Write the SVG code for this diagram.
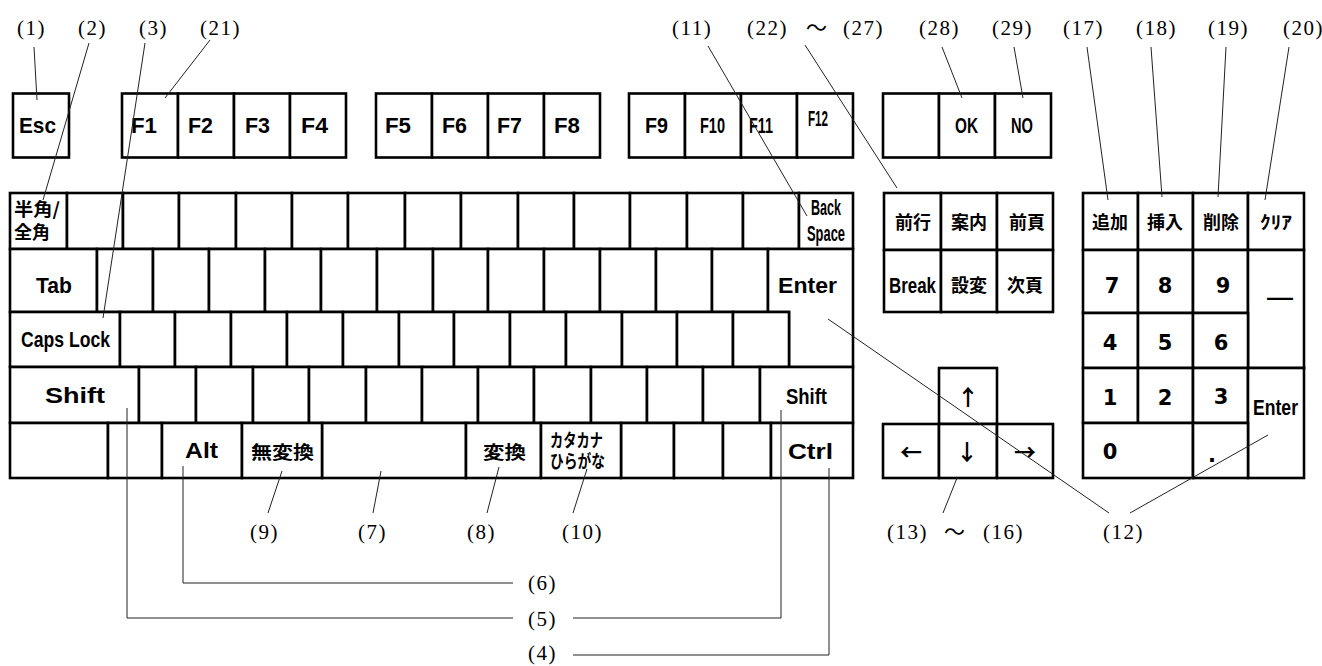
<svg xmlns="http://www.w3.org/2000/svg" width="1322" height="666" viewBox="0 0 1322 666">
<style>
.b{fill:#fff;stroke:#000;stroke-width:2.6}
.t{font-family:"Liberation Sans","Noto Sans CJK JP",sans-serif;font-weight:bold;font-size:22px;fill:#000}
.j{font-family:"Noto Sans CJK JP",sans-serif;font-weight:bold;font-size:18px;fill:#000}
.d{font-family:"DejaVu Sans",sans-serif;font-weight:bold;font-size:21px;fill:#000;text-anchor:middle}
.a{font-family:"Noto Sans CJK JP",sans-serif;font-weight:bold;font-size:22px;fill:#000;text-anchor:middle}
.l{font-family:"Liberation Serif","Noto Sans CJK JP",serif;font-size:21px;letter-spacing:1.5px;fill:#000}
.c{fill:none;stroke:#222;stroke-width:1}
</style>
<rect width="1322" height="666" fill="#fff"/>

<!-- Function row -->
<g id="key-esc"><rect class="b" x="13" y="93.5" width="56" height="64"/><text class="t" x="19" y="133" textLength="37" lengthAdjust="spacingAndGlyphs">Esc</text></g>
<g id="key-f1"><rect class="b" x="122" y="93.5" width="56" height="64"/><text class="t" x="131" y="133" textLength="26" lengthAdjust="spacingAndGlyphs">F1</text></g>
<g id="key-f2"><rect class="b" x="178" y="93.5" width="56" height="64"/><text class="t" x="188" y="133" textLength="25" lengthAdjust="spacingAndGlyphs">F2</text></g>
<g id="key-f3"><rect class="b" x="234" y="93.5" width="56" height="64"/><text class="t" x="245" y="133" textLength="25" lengthAdjust="spacingAndGlyphs">F3</text></g>
<g id="key-f4"><rect class="b" x="290" y="93.5" width="56" height="64"/><text class="t" x="301" y="133" textLength="27" lengthAdjust="spacingAndGlyphs">F4</text></g>
<g id="key-f5"><rect class="b" x="376" y="93.5" width="56" height="64"/><text class="t" x="385" y="133" textLength="26" lengthAdjust="spacingAndGlyphs">F5</text></g>
<g id="key-f6"><rect class="b" x="432" y="93.5" width="56" height="64"/><text class="t" x="442" y="133" textLength="25" lengthAdjust="spacingAndGlyphs">F6</text></g>
<g id="key-f7"><rect class="b" x="488" y="93.5" width="56" height="64"/><text class="t" x="497" y="133" textLength="25" lengthAdjust="spacingAndGlyphs">F7</text></g>
<g id="key-f8"><rect class="b" x="544" y="93.5" width="56" height="64"/><text class="t" x="554" y="133" textLength="26" lengthAdjust="spacingAndGlyphs">F8</text></g>
<g id="key-f9"><rect class="b" x="629" y="93.5" width="56" height="64"/><text class="t" x="645" y="133" textLength="23" lengthAdjust="spacingAndGlyphs">F9</text></g>
<g id="key-f10"><rect class="b" x="685" y="93.5" width="56" height="64"/><text class="t" x="700" y="133" textLength="25" lengthAdjust="spacingAndGlyphs">F10</text></g>
<g id="key-f11"><rect class="b" x="741" y="93.5" width="56" height="64"/><text class="t" x="749" y="133" textLength="24" lengthAdjust="spacingAndGlyphs">F11</text></g>
<g id="key-f12"><rect class="b" x="797" y="93.5" width="56" height="64"/><text class="t" x="808" y="126" textLength="20" lengthAdjust="spacingAndGlyphs">F12</text></g>
<g id="key-blank-top"><rect class="b" x="883" y="93.5" width="56" height="64"/></g>
<g id="key-ok"><rect class="b" x="939" y="93.5" width="56" height="64"/><text class="t" x="955" y="133" textLength="23" lengthAdjust="spacingAndGlyphs">OK</text></g>
<g id="key-no"><rect class="b" x="995" y="93.5" width="56" height="64"/><text class="t" x="1011" y="133" textLength="22" lengthAdjust="spacingAndGlyphs">NO</text></g>

<!-- Main row 1 -->
<g id="key-hankaku"><rect class="b" x="10" y="193" width="57" height="56"/><text class="j" font-size="14"><tspan x="14" y="216" textLength="46" lengthAdjust="spacingAndGlyphs">半角/</tspan><tspan x="14" y="239" textLength="36" lengthAdjust="spacingAndGlyphs">全角</tspan></text></g>
<g id="row1">
<rect class="b" x="67" y="193" width="56" height="56"/><rect class="b" x="123" y="193" width="56" height="56"/><rect class="b" x="179" y="193" width="57" height="56"/><rect class="b" x="236" y="193" width="56" height="56"/><rect class="b" x="292" y="193" width="56" height="56"/><rect class="b" x="348" y="193" width="57" height="56"/><rect class="b" x="405" y="193" width="56" height="56"/><rect class="b" x="461" y="193" width="57" height="56"/><rect class="b" x="518" y="193" width="56" height="56"/><rect class="b" x="574" y="193" width="56" height="56"/><rect class="b" x="630" y="193" width="57" height="56"/><rect class="b" x="687" y="193" width="56" height="56"/><rect class="b" x="743" y="193" width="56" height="56"/>
</g>
<g id="key-backspace"><rect class="b" x="799" y="193" width="54" height="56"/><text class="t" font-size="17"><tspan x="811" y="215" textLength="30" lengthAdjust="spacingAndGlyphs">Back</tspan><tspan x="807" y="241" textLength="38" lengthAdjust="spacingAndGlyphs">Space</tspan></text></g>

<!-- Main row 2 -->
<g id="key-tab"><rect class="b" x="10" y="249" width="87" height="63"/><text class="t" x="36" y="293" textLength="36" lengthAdjust="spacingAndGlyphs">Tab</text></g>
<g id="row2">
<rect class="b" x="97" y="249" width="56" height="63"/><rect class="b" x="153" y="249" width="56" height="63"/><rect class="b" x="209" y="249" width="56" height="63"/><rect class="b" x="265" y="249" width="56" height="63"/><rect class="b" x="321" y="249" width="56" height="63"/><rect class="b" x="377" y="249" width="56" height="63"/><rect class="b" x="433" y="249" width="55" height="63"/><rect class="b" x="488" y="249" width="56" height="63"/><rect class="b" x="544" y="249" width="56" height="63"/><rect class="b" x="600" y="249" width="56" height="63"/><rect class="b" x="656" y="249" width="56" height="63"/><rect class="b" x="712" y="249" width="56" height="63"/>
</g>
<g id="key-enter"><path class="b" d="M768,249 H853 V367 H789 V312 H768 Z"/><text class="t" x="778" y="293" textLength="59" lengthAdjust="spacingAndGlyphs">Enter</text></g>

<!-- Main row 3 -->
<g id="key-capslock"><rect class="b" x="10" y="312" width="110" height="55"/><text class="t" x="21" y="347" textLength="89" lengthAdjust="spacingAndGlyphs">Caps Lock</text></g>
<g id="row3">
<rect class="b" x="120" y="312" width="55" height="55"/><rect class="b" x="175" y="312" width="56" height="55"/><rect class="b" x="231" y="312" width="56" height="55"/><rect class="b" x="287" y="312" width="56" height="55"/><rect class="b" x="343" y="312" width="56" height="55"/><rect class="b" x="399" y="312" width="55" height="55"/><rect class="b" x="454" y="312" width="56" height="55"/><rect class="b" x="510" y="312" width="56" height="55"/><rect class="b" x="566" y="312" width="56" height="55"/><rect class="b" x="622" y="312" width="55" height="55"/><rect class="b" x="677" y="312" width="56" height="55"/><rect class="b" x="733" y="312" width="56" height="55"/>
</g>

<!-- Main row 4 -->
<g id="key-shift-l"><rect class="b" x="10" y="367" width="129" height="56"/><text class="t" x="45" y="403" textLength="60" lengthAdjust="spacingAndGlyphs">Shift</text></g>
<g id="row4">
<rect class="b" x="139" y="367" width="57" height="56"/><rect class="b" x="196" y="367" width="57" height="56"/><rect class="b" x="253" y="367" width="56" height="56"/><rect class="b" x="309" y="367" width="57" height="56"/><rect class="b" x="366" y="367" width="56" height="56"/><rect class="b" x="422" y="367" width="56" height="56"/><rect class="b" x="478" y="367" width="56" height="56"/><rect class="b" x="534" y="367" width="57" height="56"/><rect class="b" x="591" y="367" width="56" height="56"/><rect class="b" x="647" y="367" width="56" height="56"/><rect class="b" x="703" y="367" width="57" height="56"/>
</g>
<g id="key-shift-r"><rect class="b" x="760" y="367" width="93" height="56"/><text class="t" x="786" y="404" textLength="41" lengthAdjust="spacingAndGlyphs">Shift</text></g>

<!-- Main row 5 -->
<g id="row5">
<rect class="b" x="10" y="423" width="98" height="55"/><rect class="b" x="108" y="423" width="54" height="55"/>
<rect class="b" x="322" y="423" width="144" height="55"/>
<rect class="b" x="621" y="423" width="53" height="55"/><rect class="b" x="674" y="423" width="49" height="55"/><rect class="b" x="723" y="423" width="48" height="55"/>
</g>
<g id="key-alt"><rect class="b" x="162" y="423" width="80" height="55"/><text class="t" x="185" y="458" textLength="33" lengthAdjust="spacingAndGlyphs">Alt</text></g>
<g id="key-muhenkan"><rect class="b" x="242" y="423" width="80" height="55"/><text class="j" x="251" y="459" font-size="21" textLength="63" lengthAdjust="spacingAndGlyphs">無変換</text></g>
<g id="key-henkan"><rect class="b" x="466" y="423" width="75" height="55"/><text class="j" x="483" y="459" font-size="21" textLength="43" lengthAdjust="spacingAndGlyphs">変換</text></g>
<g id="key-kana"><rect class="b" x="541" y="423" width="80" height="55"/><text class="j" font-size="12.5"><tspan x="550" y="447" textLength="53" lengthAdjust="spacingAndGlyphs">カタカナ</tspan><tspan x="550" y="468" textLength="55" lengthAdjust="spacingAndGlyphs">ひらがな</tspan></text></g>
<g id="key-ctrl"><rect class="b" x="771" y="423" width="82" height="55"/><text class="t" x="788" y="459" textLength="45" lengthAdjust="spacingAndGlyphs">Ctrl</text></g>

<!-- Navigation block -->
<g id="key-zengyo"><rect class="b" x="884" y="193" width="57" height="57"/><text class="j" x="895" y="229" textLength="36" lengthAdjust="spacingAndGlyphs">前行</text></g>
<g id="key-annai"><rect class="b" x="941" y="193" width="56" height="57"/><text class="j" x="951" y="229" textLength="36" lengthAdjust="spacingAndGlyphs">案内</text></g>
<g id="key-zenpage"><rect class="b" x="997" y="193" width="56" height="57"/><text class="j" x="1009" y="229" textLength="36" lengthAdjust="spacingAndGlyphs">前頁</text></g>
<g id="key-break"><rect class="b" x="884" y="250" width="57" height="62"/><text class="t" x="889" y="293" font-size="19" textLength="47" lengthAdjust="spacingAndGlyphs">Break</text></g>
<g id="key-sethen"><rect class="b" x="941" y="250" width="56" height="62"/><text class="j" x="951" y="292" textLength="36" lengthAdjust="spacingAndGlyphs">設変</text></g>
<g id="key-jipage"><rect class="b" x="997" y="250" width="56" height="62"/><text class="j" x="1007" y="292" textLength="36" lengthAdjust="spacingAndGlyphs">次頁</text></g>

<!-- Arrow keys -->
<g id="key-up"><rect class="b" x="939" y="368" width="58" height="56"/><text class="a" x="968" y="405">↑</text></g>
<g id="key-left"><rect class="b" x="883" y="424" width="56" height="54"/><text class="a" x="911" y="460">←</text></g>
<g id="key-down"><rect class="b" x="939" y="424" width="58" height="54"/><text class="a" x="967" y="460">↓</text></g>
<g id="key-right"><rect class="b" x="997" y="424" width="56" height="54"/><text class="a" x="1025" y="460">→</text></g>

<!-- Numeric pad -->
<g id="key-tsuika"><rect class="b" x="1083" y="193" width="55" height="57"/><text class="j" x="1092" y="229" textLength="36" lengthAdjust="spacingAndGlyphs">追加</text></g>
<g id="key-sonyu"><rect class="b" x="1138" y="193" width="55" height="57"/><text class="j" x="1147" y="229" textLength="36" lengthAdjust="spacingAndGlyphs">挿入</text></g>
<g id="key-sakujo"><rect class="b" x="1193" y="193" width="55" height="57"/><text class="j" x="1203" y="229" textLength="36" lengthAdjust="spacingAndGlyphs">削除</text></g>
<g id="key-clear"><rect class="b" x="1248" y="193" width="56" height="57"/><text class="j" x="1260" y="229" textLength="32" lengthAdjust="spacingAndGlyphs">ｸﾘｱ</text></g>
<g id="key-7"><rect class="b" x="1083" y="250" width="55" height="63"/><text class="d" x="1112" y="293">7</text></g>
<g id="key-8"><rect class="b" x="1138" y="250" width="55" height="63"/><text class="d" x="1165" y="293">8</text></g>
<g id="key-9"><rect class="b" x="1193" y="250" width="55" height="63"/><text class="d" x="1223" y="293">9</text></g>
<g id="key-minus"><rect class="b" x="1248" y="250" width="56" height="118"/><text class="t" x="1267" y="305" font-size="26" textLength="26" lengthAdjust="spacingAndGlyphs">—</text></g>
<g id="key-4"><rect class="b" x="1083" y="313" width="55" height="55"/><text class="d" x="1110" y="350">4</text></g>
<g id="key-5"><rect class="b" x="1138" y="313" width="55" height="55"/><text class="d" x="1165" y="350">5</text></g>
<g id="key-6"><rect class="b" x="1193" y="313" width="55" height="55"/><text class="d" x="1221" y="350">6</text></g>
<g id="key-1"><rect class="b" x="1083" y="368" width="55" height="55"/><text class="d" x="1110" y="405">1</text></g>
<g id="key-2"><rect class="b" x="1138" y="368" width="55" height="55"/><text class="d" x="1165" y="405">2</text></g>
<g id="key-3"><rect class="b" x="1193" y="368" width="55" height="55"/><text class="d" x="1221" y="404">3</text></g>
<g id="key-numenter"><rect class="b" x="1248" y="368" width="56" height="110"/><text class="t" x="1253" y="415" textLength="45" lengthAdjust="spacingAndGlyphs">Enter</text></g>
<g id="key-0"><rect class="b" x="1083" y="423" width="110" height="55"/><text class="d" x="1110" y="459">0</text></g>
<g id="key-dot"><rect class="b" x="1193" y="423" width="55" height="55"/><text class="d" x="1212" y="462">.</text></g>

<!-- Leader lines -->
<g id="connectors">
<line class="c" x1="34" y1="47" x2="37" y2="100"/>
<line class="c" x1="89" y1="43" x2="43" y2="200"/>
<line class="c" x1="145" y1="43" x2="103" y2="318"/>
<line class="c" x1="210" y1="40" x2="165" y2="98"/>
<line class="c" x1="708" y1="46" x2="807" y2="216"/>
<line class="c" x1="805" y1="45" x2="897" y2="188"/>
<line class="c" x1="942" y1="47" x2="962" y2="98"/>
<line class="c" x1="1014" y1="47" x2="1023" y2="98"/>
<line class="c" x1="1087" y1="47" x2="1108" y2="200"/>
<line class="c" x1="1151" y1="47" x2="1162" y2="197"/>
<line class="c" x1="1226" y1="47" x2="1218" y2="197"/>
<line class="c" x1="1289" y1="47" x2="1265" y2="200"/>
<line class="c" x1="282" y1="471" x2="268" y2="513"/>
<line class="c" x1="381" y1="471" x2="373" y2="513"/>
<line class="c" x1="499" y1="467" x2="487" y2="513"/>
<line class="c" x1="587" y1="469" x2="573" y2="513"/>
<line class="c" x1="957" y1="478" x2="943" y2="513"/>
<line class="c" x1="828" y1="319" x2="1109" y2="513"/>
<line class="c" x1="1268" y1="435" x2="1130" y2="513"/>
<polyline class="c" points="183,466 183,583 513,583"/>
<polyline class="c" points="127,408 127,618 513,618"/>
<polyline class="c" points="573,618 781,618 781,410"/>
<polyline class="c" points="573,655 829,655 829,468"/>
</g>

<!-- Callout labels -->
<g id="labels">
<text class="l" x="17" y="35">(1)</text>
<text class="l" x="78" y="35">(2)</text>
<text class="l" x="139" y="35">(3)</text>
<text class="l" x="200" y="35">(21)</text>
<text class="l" x="672" y="35">(11)</text>
<text class="l" y="35"><tspan x="747">(22)</tspan><tspan x="806">～</tspan><tspan x="843">(27)</tspan></text>
<text class="l" x="919" y="35">(28)</text>
<text class="l" x="992" y="35">(29)</text>
<text class="l" x="1063" y="35">(17)</text>
<text class="l" x="1136" y="35">(18)</text>
<text class="l" x="1208" y="35">(19)</text>
<text class="l" x="1283" y="35">(20)</text>
<text class="l" x="250" y="539">(9)</text>
<text class="l" x="358" y="539">(7)</text>
<text class="l" x="467" y="539">(8)</text>
<text class="l" x="562" y="539">(10)</text>
<text class="l" y="539"><tspan x="887">(13)</tspan><tspan x="944">～</tspan><tspan x="983">(16)</tspan></text>
<text class="l" x="1103" y="539">(12)</text>
<text class="l" x="528" y="590">(6)</text>
<text class="l" x="528" y="626">(5)</text>
<text class="l" x="528" y="660">(4)</text>
</g>
</svg>
